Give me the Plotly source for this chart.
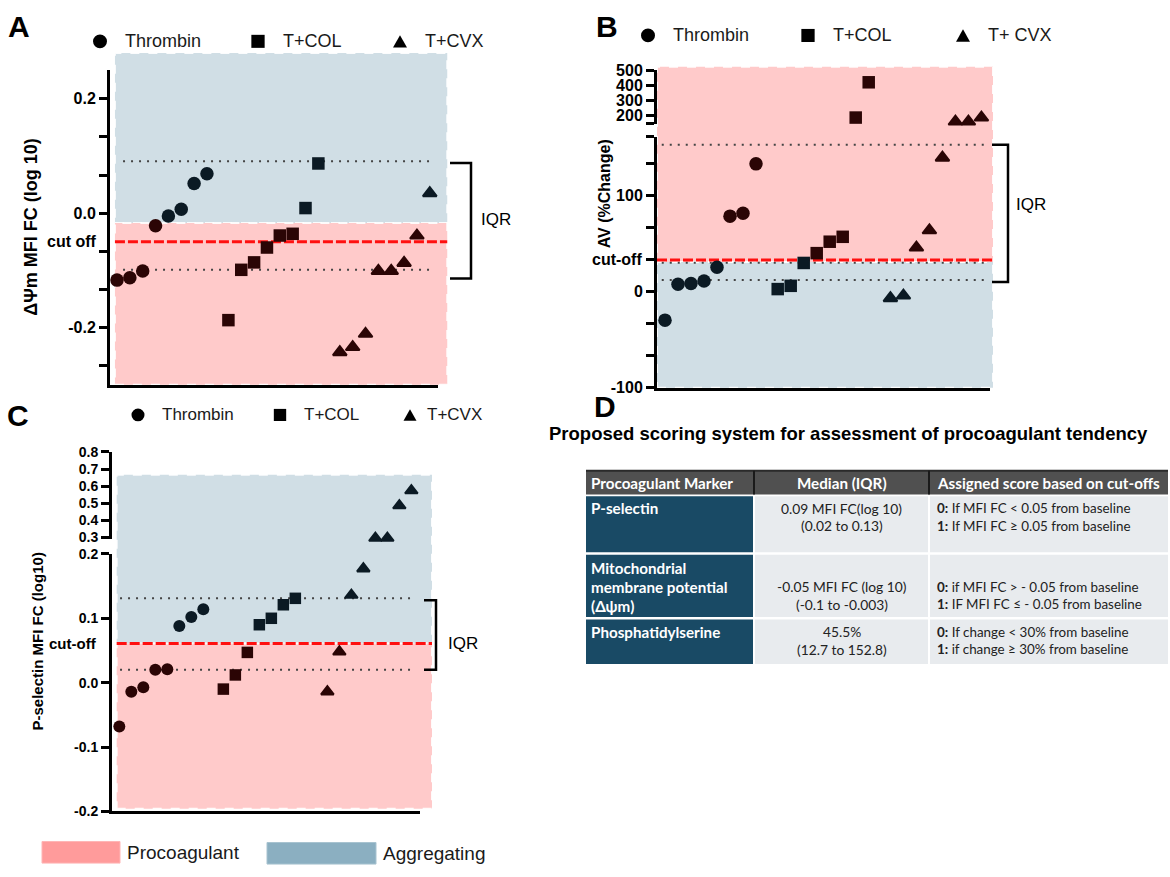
import plotly.graph_objects as go

W, H = 1170, 877
FONT = "Liberation Sans"
TFONT = "Lato"

# ---------------- data ----------------
GROUPS = ["Thrombin", "T+COL", "T+CVX"]
SYMBOLS = ["circle", "square", "triangle-up"]
GROUP_STEP = 8.67

# Panel A : ΔΨm MFI FC (log 10)
A_THROMBIN = [-0.117, -0.113, -0.101, -0.022, -0.005, 0.007, 0.052, 0.069]
A_TCOL = [-0.187, -0.099, -0.086, -0.060, -0.039, -0.036, 0.009, 0.087]
A_TCVX = [-0.243, -0.234, -0.211, -0.101, -0.101, -0.087, -0.039, 0.035]
A_CUTOFF = -0.05
A_SPLIT = -0.017
A_Q = [-0.099, 0.091]
A_BRACKET = [-0.114, 0.088]
A_TICKVALS = [-0.2667, -0.2, -0.1333, -0.0667, 0.0, 0.0667, 0.1333, 0.2]
A_TICKTEXT = ["", "-0.2", "", "", "0.0", "", "", "0.2"]

# Panel B : AV (%Change)
B_THROMBIN = [-29.6, 7.8, 8.5, 11.2, 25.5, 78.6, 81.6, 133.0]
B_TCOL = [2.7, 6.1, 29.9, 40.1, 52.0, 57.1, 189.0, 420.0]
B_TCVX = [-6.8, -4.1, 45.9, 63.9, 139.4, 163.0, 163.0, 189.0]
B_CUTOFF = 33
B_SPLIT = 31
B_Q = [12.2, 30.0, 153.0]
B_BRACKET = [10.2, 153.0]
B_BREAK = 161
B_LOW_TICKVALS = [-100, -66.7, -33.3, 0, 33.3, 66.7, 100, 133.3, 161]
B_LOW_TICKTEXT = ["-100", "", "", "0", "", "", "100", "", ""]
B_UP_TICKVALS = [150, 200, 300, 400, 500]
B_UP_TICKTEXT = ["", "200", "300", "400", "500"]

# Panel C : P-selectin MFI FC (log10)
C_THROMBIN = [-0.068, -0.014, -0.007, 0.020, 0.021, 0.088, 0.102, 0.114]
C_TCOL = [-0.010, 0.012, 0.047, 0.090, 0.100, 0.121, 0.131]
C_TCVX = [-0.014, 0.048, 0.136, 0.177, 0.297, 0.297, 0.487, 0.574]
C_CUTOFF = 0.061
C_SPLIT = 0.061
C_Q = [0.020, 0.131]
C_BRACKET = [0.020, 0.128]
C_BREAK = 0.2
C_LOW_TICKVALS = [-0.2, -0.1, 0.0, 0.1, 0.2]
C_LOW_TICKTEXT = ["-0.2", "-0.1", "0.0", "0.1", "0.2"]
C_UP_TICKVALS = [0.3, 0.4, 0.5, 0.6, 0.7, 0.8]
C_UP_TICKTEXT = ["0.3", "0.4", "0.5", "0.6", "0.7", "0.8"]

# Panel D : table
TABLE_TITLE = "Proposed scoring system for assessment of procoagulant tendency"
TABLE_HEADER = ["Procoagulant Marker", "Median (IQR)", "Assigned score based on cut-offs"]
TABLE_MARKERS = [["P-selectin"],
                 ["Mitochondrial", "membrane potential", "(Δψm)"],
                 ["Phosphatidylserine"]]
TABLE_MEDIANS = [["0.09 MFI FC(log 10)", "(0.02 to 0.13)"],
                 ["-0.05 MFI FC (log 10)", "(-0.1 to -0.003)"],
                 ["45.5%", "(12.7 to 152.8)"]]
TABLE_SCORES = [["<b>0:</b> If MFI FC &lt; 0.05 from baseline", "<b>1:</b> If MFI FC ≥ 0.05 from baseline"],
                ["<b>0:</b> if MFI FC &gt; - 0.05 from baseline", "<b>1:</b> IF MFI FC ≤ - 0.05 from baseline"],
                ["<b>0:</b> If change &lt; 30% from baseline", "<b>1:</b> if change ≥ 30% from baseline"]]
LEGEND_AREAS = ["Procoagulant", "Aggregating"]

# ---------------- styles / geometry ----------------
PINK = "#FFCACA"
BLUE = "#D0DEE5"
MAROON = "#2b0505"
NAVY = "#0b1a24"

XAX = {  # (left px, right px), range
    "x": ((110, 438), (-0.545, 24.98)),
    "x2": ((657, 990), (-0.615, 25.0)),
    "x3": ((112, 420), (-0.61, 25.06)),
}
YAX = {  # (top px, bottom px), range
    "y": ((63.5, 384.2), (-0.3, 0.25)),
    "y2": ((131.5, 387.3), (-100, 161)),
    "y3": ((63.3, 117.8), (150, 500)),
    "y4": ((556.7, 819.3), (-0.2, 0.2)),
    "y5": ((452.7, 541.75), (0.29, 0.8)),
}


def PX(x):
    return x / W


def PY(y):
    return 1 - y / H


def xp(ax, v):
    (d0, d1), (r0, r1) = XAX[ax]
    return (d0 + (v - r0) / (r1 - r0) * (d1 - d0)) / W


def yp(ax, v):
    (top, bot), (r0, r1) = YAX[ax]
    pxv = bot - (v - r0) / (r1 - r0) * (bot - top)
    return 1 - pxv / H


fig = go.Figure()
shapes = []
annotations = []


def add_points(groups_vals, xa, ylow, yup, brk, split, pink_above, sizes):
    for g, vals in enumerate(groups_vals):
        segs = {ylow: ([], [], []), yup: ([], [], [])} if yup else {ylow: ([], [], [])}
        for i, v in enumerate(vals):
            ya = yup if (yup and v > brk) else ylow
            in_pink = (v > split) == pink_above
            segs[ya][0].append(g * GROUP_STEP + i)
            segs[ya][1].append(v)
            segs[ya][2].append(MAROON if in_pink else NAVY)
        for ya, (xs, ys, cs) in segs.items():
            if not xs:
                continue
            sym = SYMBOLS[g]
            lw = 2 if sym == "triangle-up" else 0
            fig.add_trace(go.Scatter(
                x=xs, y=ys, xaxis=xa, yaxis=ya, mode="markers", showlegend=False,
                cliponaxis=False, hoverinfo="skip",
                marker=dict(symbol=sym, size=sizes[g], color=cs,
                            line=dict(width=lw, color=cs))))


# ---- shading regions ----
def rect(x0, x1, y0, y1, color):
    shapes.append(dict(type="rect", xref="paper", yref="paper", x0=x0, x1=x1, y0=y0, y1=y1,
                       fillcolor=color, layer="below",
                       line=dict(color="rgba(255,255,255,0.9)", width=2, dash="dash")))


# A
rect(xp("x", -0.16), xp("x", 25.7), yp("y", A_SPLIT), yp("y", 0.28), BLUE)
rect(xp("x", -0.16), xp("x", 25.7), yp("y", -0.3), yp("y", A_SPLIT), PINK)
# B
rect(xp("x2", -0.615), xp("x2", 25.23), yp("y2", B_SPLIT), yp("y3", 521), PINK)
rect(xp("x2", -0.615), xp("x2", 25.23), yp("y2", -100), yp("y2", B_SPLIT), BLUE)
# C
rect(xp("x3", -0.22), xp("x3", 26.06), yp("y4", C_SPLIT), yp("y5", 0.666), BLUE)
rect(xp("x3", -0.22), xp("x3", 26.06), yp("y4", -0.196), yp("y4", C_SPLIT), PINK)


def hline(xa, ya, v, x0, x1, color, width, dash, layer="above"):
    shapes.append(dict(type="line", xref="paper", yref="paper",
                       x0=xp(xa, x0), x1=xp(xa, x1), y0=yp(ya, v), y1=yp(ya, v),
                       line=dict(color=color, width=width, dash=dash), layer=layer))


DOT = "2px,6px"
for q in A_Q:
    hline("x", "y", q, 0.47, 24.6, "#444444", 2, DOT, "below")
for q in B_Q:
    hline("x2", "y2", q, -0.25, 24.6, "#444444", 2, DOT, "below")
for q in C_Q:
    hline("x3", "y4", q, 0.06, 24.6, "#444444", 2, DOT, "below")

hline("x", "y", A_CUTOFF, -0.16, 25.7, "#FF1010", 3, "10px,3px", "below")
hline("x2", "y2", B_CUTOFF, -0.615, 25.23, "#FF1010", 3, "10px,3px", "below")
hline("x3", "y4", C_CUTOFF, -0.22, 26.06, "#FF1010", 3, "10px,3px", "below")

# ---- points ----
add_points([A_THROMBIN, A_TCOL, A_TCVX], "x", "y", None, None, A_SPLIT, False, [13.5, 12.5, 12])
add_points([B_THROMBIN, B_TCOL, B_TCVX], "x2", "y2", "y3", B_BREAK, B_SPLIT, True, [13.5, 12.5, 12])
add_points([C_THROMBIN, C_TCOL, C_TCVX], "x3", "y4", "y5", C_BREAK, C_SPLIT, False, [12, 11.5, 11])


# ---- IQR brackets ----
def bracket(ya, lo, hi, xl, xr, label_x, label_y):
    y0, y1 = yp(ya, hi), yp(ya, lo)
    shapes.append(dict(type="path", xref="paper", yref="paper",
                       path=f"M{PX(xl)},{y0} L{PX(xr)},{y0} L{PX(xr)},{y1} L{PX(xl)},{y1}",
                       line=dict(color="black", width=2.5)))
    annotations.append(dict(text="IQR", x=PX(label_x), y=PY(label_y), xref="paper", yref="paper",
                            xanchor="left", yanchor="middle", showarrow=False,
                            font=dict(family=FONT, size=17, color="black")))


bracket("y", A_BRACKET[0], A_BRACKET[1], 450, 471, 479, 216)
bracket("y2", B_BRACKET[0], B_BRACKET[1], 992, 1008, 1014, 200)
bracket("y4", C_BRACKET[0], C_BRACKET[1], 424, 436, 446, 648)


# ---- text helpers ----
def text(t, x, y, size, xanchor="left", bold=False, color="black", family=FONT, angle=0, yanchor="middle"):
    annotations.append(dict(text=t, x=PX(x), y=PY(y), xref="paper", yref="paper",
                            xanchor=xanchor, yanchor=yanchor, showarrow=False, textangle=angle,
                            font=dict(family=family, size=size, color=color,
                                      weight="bold" if bold else "normal")))


# panel letters
text("A", 6, 19, 30, bold=True)
text("B", 594, 19, 30, bold=True)
text("C", 5, 416, 30, bold=True)
text("D", 592, 406, 30, bold=True)

# axis titles
text("ΔΨm MFI FC (log 10)", 31, 223, 18, xanchor="center", bold=True, angle=-90)
text("AV (%Change)", 604, 190, 16, xanchor="center", bold=True, angle=-90)
text("P-selectin MFI FC (log10)", 37, 646, 15, xanchor="center", bold=True, angle=-90)

# cut-off labels
annotations.append(dict(text="cut off", x=PX(99), y=yp("y", A_CUTOFF), xref="paper", yref="paper",
                        xanchor="right", yanchor="middle", showarrow=False,
                        font=dict(family=FONT, size=16, color="black", weight="bold")))
annotations.append(dict(text="cut-off", x=PX(644), y=yp("y2", B_CUTOFF), xref="paper", yref="paper",
                        xanchor="right", yanchor="middle", showarrow=False,
                        font=dict(family=FONT, size=16, color="black", weight="bold")))
annotations.append(dict(text="cut-off", x=PX(99), y=yp("y4", C_CUTOFF), xref="paper", yref="paper",
                        xanchor="right", yanchor="middle", showarrow=False,
                        font=dict(family=FONT, size=15, color="black", weight="bold")))


# ---- per-panel symbol legends ----
def sym_shape(kind, xc, yc, s):
    if kind == "circle":
        shapes.append(dict(type="circle", xref="paper", yref="paper", x0=PX(xc - s / 2), x1=PX(xc + s / 2),
                           y0=PY(yc + s / 2), y1=PY(yc - s / 2), fillcolor="black", line=dict(width=0)))
    elif kind == "square":
        s2 = s * 0.95
        shapes.append(dict(type="rect", xref="paper", yref="paper", x0=PX(xc - s2 / 2), x1=PX(xc + s2 / 2),
                           y0=PY(yc + s2 / 2), y1=PY(yc - s2 / 2), fillcolor="black", line=dict(width=0)))
    else:
        w, h = s, s * 0.9
        path = (f"M{PX(xc - w / 2)},{PY(yc + h / 2)} L{PX(xc + w / 2)},{PY(yc + h / 2)} "
                f"L{PX(xc)},{PY(yc - h / 2)} Z")
        shapes.append(dict(type="path", xref="paper", yref="paper", path=path,
                           fillcolor="black", line=dict(width=0)))


def legend_row(y, items, size, tsize, labels):
    for (kind, xs, xt), lab in zip(items, labels):
        sym_shape(kind, xs, y, size)
        text(lab, xt, y, tsize, color="#1a1a1a")


legend_row(34, [("circle", 100, 123), ("square", 258, 281), ("tri", 400, 423)], 14, 18, GROUPS)
legend_row(28, [("circle", 648, 671), ("square", 808, 831), ("tri", 963, 986)], 14, 18,
           ["Thrombin", "T+COL", "T+ CVX"])
legend_row(415, [("circle", 138, 160), ("square", 280, 302), ("tri", 410, 425)], 13, 17, GROUPS)

# ---- bottom area legend ----
shapes.append(dict(type="rect", xref="paper", yref="paper", x0=PX(42), x1=PX(120), y0=PY(872), y1=PY(850),
                   fillcolor="#FF9B9B", line=dict(color="#FFB5B5", width=1)))
shapes.append(dict(type="rect", xref="paper", yref="paper", x0=PX(267), x1=PX(376), y0=PY(873), y1=PY(851),
                   fillcolor="#8BAFC1", line=dict(color="#A8C3D0", width=1)))
text(LEGEND_AREAS[0], 125, 861, 19, color="#1a1a1a")
text(LEGEND_AREAS[1], 381, 862, 19, color="#1a1a1a")

# ---- panel D table ----
text(TABLE_TITLE, 848, 434, 18.5, xanchor="center", bold=True)

TL, C1, C2, TR = 586, 754, 929, 1168
HEAD_T, HEAD_B = 472, 496
ROWS_PX = [(498, 555, 510, 510), (557.5, 621, 571, 590), (623.5, 669, 636, 636)]

shapes.append(dict(type="rect", xref="paper", yref="paper", x0=PX(TL), x1=PX(TR), y0=PY(HEAD_B), y1=PY(HEAD_T),
                   fillcolor="#505050", line=dict(width=0)))
shapes.append(dict(type="line", xref="paper", yref="paper", x0=PX(TL), x1=PX(TR), y0=PY(HEAD_T), y1=PY(HEAD_T),
                   line=dict(color="#2a2a2a", width=2)))
for cx in (C1, C2):
    shapes.append(dict(type="line", xref="paper", yref="paper", x0=PX(cx), x1=PX(cx), y0=PY(HEAD_B), y1=PY(HEAD_T),
                       line=dict(color="#1a1a1a", width=2)))
text(TABLE_HEADER[0], TL + 3, 484, 15.2, bold=True, color="white", family=TFONT)
text(TABLE_HEADER[1], (C1 + C2) / 2, 484, 15.2, xanchor="center", bold=True, color="white", family=TFONT)
text(TABLE_HEADER[2], C2 + 6, 484, 15.2, bold=True, color="white", family=TFONT)

for (top, bot, c1y, c23y), mk, md, sc in zip(ROWS_PX, TABLE_MARKERS, TABLE_MEDIANS, TABLE_SCORES):
    shapes.append(dict(type="rect", xref="paper", yref="paper", x0=PX(TL), x1=PX(C1 - 1), y0=PY(bot), y1=PY(top),
                       fillcolor="#194a65", line=dict(width=0)))
    shapes.append(dict(type="rect", xref="paper", yref="paper", x0=PX(C1 + 1), x1=PX(C2 - 1), y0=PY(bot), y1=PY(top),
                       fillcolor="#e8ebee", line=dict(width=0)))
    shapes.append(dict(type="rect", xref="paper", yref="paper", x0=PX(C2 + 1), x1=PX(TR), y0=PY(bot), y1=PY(top),
                       fillcolor="#e8ebee", line=dict(width=0)))
    for k, line in enumerate(mk):
        text(line, TL + 3, c1y + k * 19.3, 15.2, bold=True, color="white", family=TFONT)
    for k, line in enumerate(md):
        text(line, (C1 + C2) / 2, c23y + k * 17.8, 13.8, xanchor="center", color="#222222", family=TFONT)
    for k, line in enumerate(sc):
        text(line, C2 + 6, c23y + k * 17.8, 13.4, color="#222222", family=TFONT)

# ---- axes ----
common_x = dict(showgrid=False, zeroline=False, showline=True, linecolor="black", linewidth=3,
                ticks="", showticklabels=False, fixedrange=True)
common_y = dict(showgrid=False, zeroline=False, showline=True, linecolor="black", linewidth=3,
                ticks="outside", ticklen=8, tickwidth=2.5, tickcolor="black", fixedrange=True)


def xdom(ax):
    (d0, d1), r = XAX[ax]
    return dict(domain=[d0 / W, d1 / W], range=list(r))


def ydom(ax):
    (top, bot), r = YAX[ax]
    return dict(domain=[1 - bot / H, 1 - top / H], range=list(r))


def tf(size):
    return dict(family=FONT, size=size, color="black", weight="bold")


fig.update_layout(
    width=W, height=H, autosize=False,
    margin=dict(l=0, r=0, t=0, b=0, pad=0),
    paper_bgcolor="white", plot_bgcolor="rgba(0,0,0,0)",
    showlegend=False,
    xaxis=dict(**common_x, **xdom("x"), anchor="y"),
    xaxis2=dict(**common_x, **xdom("x2"), anchor="y2"),
    xaxis3=dict(**common_x, **xdom("x3"), anchor="y4"),
    yaxis=dict(**common_y, **ydom("y"), anchor="x", tickvals=A_TICKVALS, ticktext=A_TICKTEXT, tickfont=tf(16)),
    yaxis2=dict(**common_y, **ydom("y2"), anchor="x2", tickvals=B_LOW_TICKVALS, ticktext=B_LOW_TICKTEXT,
                tickfont=tf(16)),
    yaxis3=dict(**common_y, **ydom("y3"), anchor="x2", tickvals=B_UP_TICKVALS, ticktext=B_UP_TICKTEXT,
                tickfont=tf(16)),
    yaxis4=dict(**common_y, **ydom("y4"), anchor="x3", tickvals=C_LOW_TICKVALS, ticktext=C_LOW_TICKTEXT,
                tickfont=tf(14)),
    yaxis5=dict(**common_y, **ydom("y5"), anchor="x3", tickvals=C_UP_TICKVALS, ticktext=C_UP_TICKTEXT,
                tickfont=tf(14)),
    shapes=shapes,
    annotations=annotations,
)

fig.write_html("out.html", config={"displayModeBar": False},
               post_script="document.body.style.margin='0';")
